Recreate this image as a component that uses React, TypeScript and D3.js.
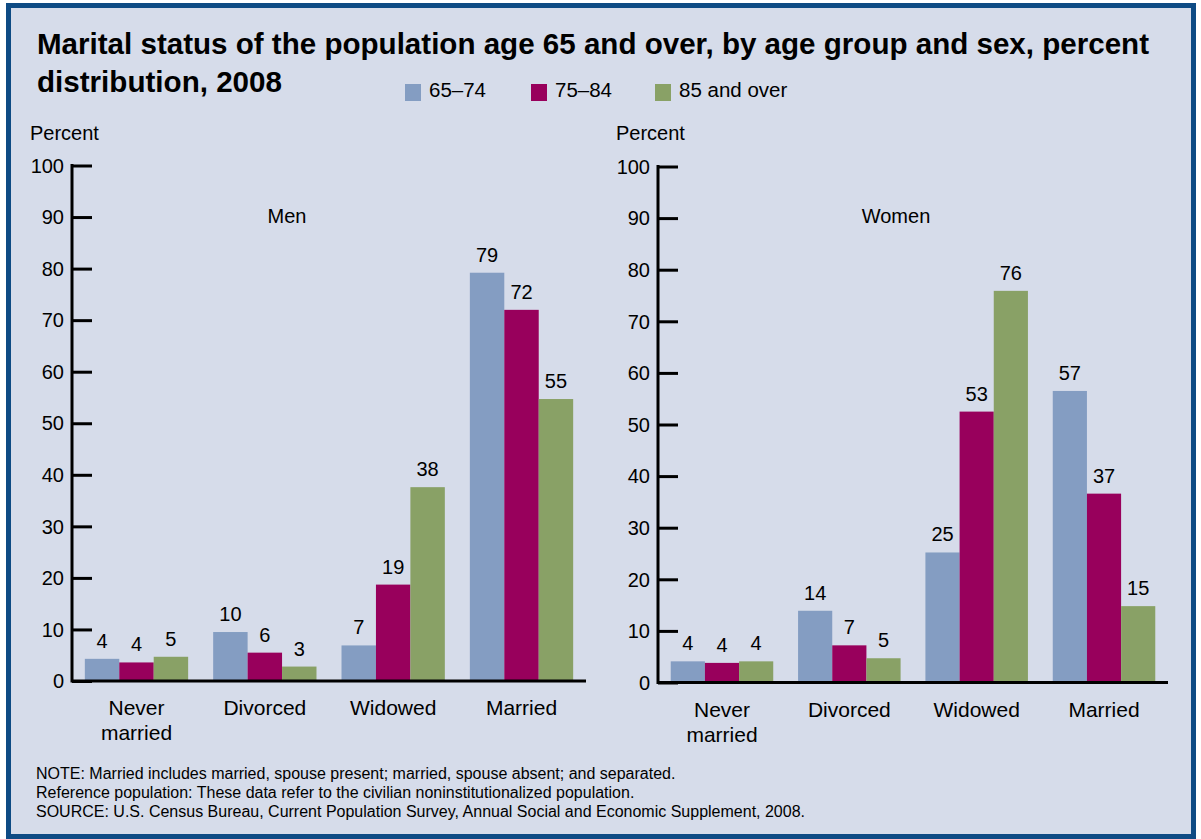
import React, { useRef, useEffect } from "react";
import * as d3 from "d3";

const categories = ["Never married", "Divorced", "Widowed", "Married"];
const ageGroups = ["65–74", "75–84", "85 and over"];
const colors = ["#849dc2", "#98005c", "#89a166"];

const men6574 = [4.3, 9.5, 6.9, 79.2];
const men7584 = [3.6, 5.5, 18.7, 72.0];
const men85 = [4.7, 2.8, 37.6, 54.7];

const women6574 = [4.1, 13.9, 25.2, 56.5];
const women7584 = [3.8, 7.2, 52.5, 36.6];
const women85 = [4.1, 4.7, 75.9, 14.8];

const yTicks = [0, 10, 20, 30, 40, 50, 60, 70, 80, 90, 100];

const notes = [
  "NOTE: Married includes married, spouse present; married, spouse absent; and separated.",
  "Reference population: These data refer to the civilian noninstitutionalized population.",
  "SOURCE: U.S. Census Bureau, Current Population Survey, Annual Social and Economic Supplement, 2008.",
];

const FONT = "'Liberation Sans', Arial, Helvetica, sans-serif";

const drawPanel = (svg, opts) => {
  const { left, right, y0, y100, title, titleX, series } = opts;
  const g = svg.append("g");

  const x = d3
    .scaleBand()
    .domain(categories)
    .range([left, right])
    .paddingInner(0.195)
    .paddingOuter(0.1);
  const xInner = d3
    .scaleBand()
    .domain(ageGroups)
    .range([0, x.bandwidth()]);
  const y = d3.scaleLinear().domain([0, 100]).range([y0, y100]);

  // "Percent" label
  g.append("text")
    .attr("x", left - 42)
    .attr("y", 140)
    .attr("font-size", 20)
    .text("Percent");

  // panel title
  g.append("text")
    .attr("x", titleX)
    .attr("y", 223)
    .attr("text-anchor", "middle")
    .attr("font-size", 20)
    .text(title);

  // bars
  series.forEach((vals, si) => {
    g.append("g")
      .selectAll("rect")
      .data(vals)
      .join("rect")
      .attr("x", (d, i) => x(categories[i]) + xInner(ageGroups[si]))
      .attr("y", (d) => y(d))
      .attr("width", xInner.bandwidth())
      .attr("height", (d) => y(0) - y(d))
      .attr("fill", colors[si]);

    g.append("g")
      .selectAll("text")
      .data(vals)
      .join("text")
      .attr("x", (d, i) => x(categories[i]) + xInner(ageGroups[si]) + xInner.bandwidth() / 2)
      .attr("y", (d) => y(d) - 11)
      .attr("text-anchor", "middle")
      .attr("font-size", 20)
      .text((d) => Math.round(d));
  });

  // y axis
  const yAxis = d3
    .axisRight(y)
    .tickValues(yTicks)
    .tickSize(20)
    .tickFormat(() => "");
  const ya = g.append("g").attr("transform", `translate(${left},0)`).call(yAxis);
  ya.select(".domain").remove();
  ya.selectAll(".tick line").attr("stroke", "#000").attr("stroke-width", 3);
  g.append("line")
    .attr("x1", left)
    .attr("x2", left)
    .attr("y1", y100 - 1.5)
    .attr("y2", y0 + 1.5)
    .attr("stroke", "#000")
    .attr("stroke-width", 3);

  g.append("g")
    .selectAll("text")
    .data(yTicks)
    .join("text")
    .attr("x", left - 8)
    .attr("y", (d) => y(d))
    .attr("dy", "0.36em")
    .attr("text-anchor", "end")
    .attr("font-size", 20)
    .text((d) => d);

  // x axis
  g.append("line")
    .attr("x1", left)
    .attr("x2", right)
    .attr("y1", y0)
    .attr("y2", y0)
    .attr("stroke", "#000")
    .attr("stroke-width", 3);

  const catLabels = g
    .append("g")
    .selectAll("text")
    .data(categories)
    .join("text")
    .attr("x", (d) => x(d) + x.bandwidth() / 2)
    .attr("y", y0 + 34)
    .attr("text-anchor", "middle")
    .attr("font-size", 21);
  catLabels.each(function (d) {
    const words = d === "Never married" ? ["Never", "married"] : [d];
    const t = d3.select(this);
    words.forEach((w, i) => {
      t.append("tspan")
        .attr("x", x(d) + x.bandwidth() / 2)
        .attr("dy", i === 0 ? 0 : 25)
        .text(w);
    });
  });
};

const App = () => {
  const ref = useRef(null);

  useEffect(() => {
    if (!ref.current) return;
    const svg = d3.select(ref.current);
    svg.selectAll("*").remove();

    svg
      .append("rect")
      .attr("x", 8.5)
      .attr("y", 5.5)
      .attr("width", 1185)
      .attr("height", 831)
      .attr("fill", "#d6dcea")
      .attr("stroke", "#0e4b84")
      .attr("stroke-width", 5);

    svg
      .append("text")
      .attr("x", 37)
      .attr("y", 54)
      .attr("font-size", 30)
      .attr("font-weight", "bold")
      .attr("textLength", 1112)
      .attr("lengthAdjust", "spacingAndGlyphs")
      .text("Marital status of the population age 65 and over, by age group and sex, percent");
    svg
      .append("text")
      .attr("x", 37)
      .attr("y", 92)
      .attr("font-size", 30)
      .attr("font-weight", "bold")
      .attr("textLength", 245)
      .attr("lengthAdjust", "spacingAndGlyphs")
      .text("distribution, 2008");

    // legend
    const legendX = [405, 531, 655];
    const lg = svg.append("g");
    ageGroups.forEach((a, i) => {
      lg.append("rect")
        .attr("x", legendX[i])
        .attr("y", 84)
        .attr("width", 16)
        .attr("height", 17)
        .attr("fill", colors[i]);
      lg.append("text")
        .attr("x", legendX[i] + 24)
        .attr("y", 97)
        .attr("font-size", 20.5)
        .text(a);
    });

    drawPanel(svg, {
      left: 72,
      right: 586,
      y0: 681,
      y100: 165.5,
      title: "Men",
      titleX: 287,
      series: [men6574, men7584, men85],
    });
    drawPanel(svg, {
      left: 658,
      right: 1168,
      y0: 682.5,
      y100: 166.5,
      title: "Women",
      titleX: 896,
      series: [women6574, women7584, women85],
    });

    svg
      .append("g")
      .selectAll("text")
      .data(notes)
      .join("text")
      .attr("x", 36)
      .attr("y", (d, i) => 779 + i * 19)
      .attr("font-size", 16)
      .text((d) => d);
  }, []);

  return (
    <svg
      ref={ref}
      width={1201}
      height={839}
      style={{ position: "absolute", left: 0, top: 0, background: "#fff", fontFamily: FONT }}
    />
  );
};

export default App;
